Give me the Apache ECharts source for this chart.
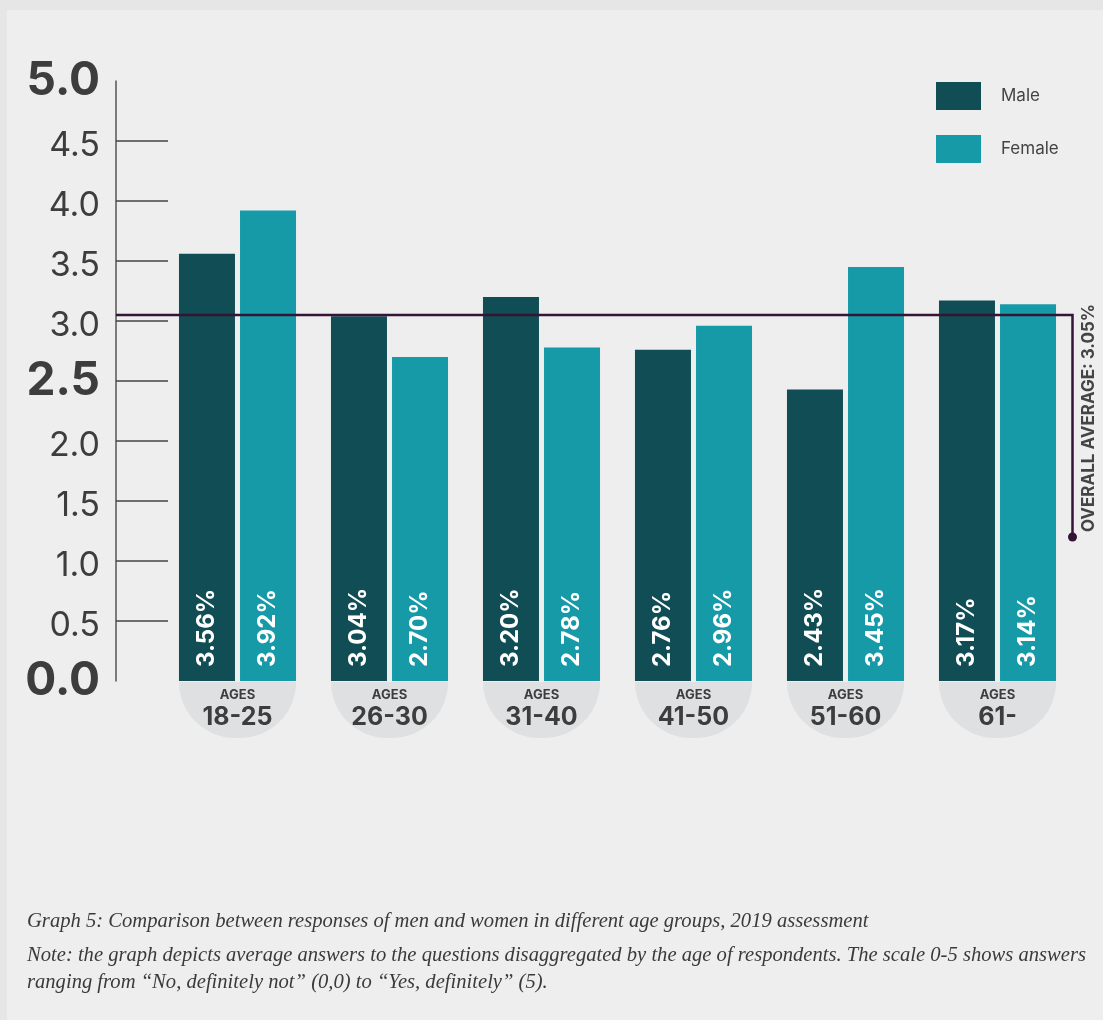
<!DOCTYPE html>
<html>
<head>
<meta charset="utf-8">
<script src="https://cdn.jsdelivr.net/npm/echarts@6/dist/echarts.min.js"></script>
<style>
html,body{margin:0;padding:0;background:#e6e6e6;}
#chart{width:1103px;height:1020px;}
</style>
</head>
<body>
<div id="chart"></div>
<script>
const categories = ['18-25', '26-30', '31-40', '41-50', '51-60', '61-'];
const maleValues = [3.56, 3.04, 3.20, 2.76, 2.43, 3.17];
const femaleValues = [3.92, 2.70, 2.78, 2.96, 3.45, 3.14];
const overallAverage = 3.05;
const yTicks = [0, 0.5, 1, 1.5, 2, 2.5, 3, 3.5, 4, 4.5, 5];
const tickMarks = [0.5, 1, 1.5, 2, 2.5, 3, 3.5, 4, 4.5];
const boldTicks = [0, 2.5, 5];
const captionLines = [
  'Graph 5: Comparison between responses of men and women in different age groups, 2019 assessment',
  'Note: the graph depicts average answers to the questions disaggregated by the age of respondents. The scale 0-5 shows answers',
  'ranging from \u201cNo, definitely not\u201d (0,0) to \u201cYes, definitely\u201d (5).'
];

const FONT = 'Inter, Roboto, sans-serif';
const chart = echarts.init(document.getElementById('chart'));

const GRID_LEFT = 161.5, GRID_RIGHT = 29.5, AXIS_OFFSET = 45.5;

const barLabel = {
  show: true,
  position: 'insideBottom',
  rotate: 90,
  align: 'left',
  verticalAlign: 'middle',
  distance: 14,
  offset: [0, 0],
  color: '#ffffff',
  fontFamily: FONT,
  fontWeight: 'bold',
  fontSize: 24,
  formatter: p => p.value.toFixed(2) + '%'
};

const option = {
  backgroundColor: '#e6e6e6',
  animation: false,
  grid: { left: GRID_LEFT, right: GRID_RIGHT, top: 81, bottom: 1020 - 681 },
  legend: {
    orient: 'vertical',
    left: 936,
    top: 82,
    padding: 0,
    icon: 'rect',
    itemWidth: 45,
    itemHeight: 28,
    itemGap: 25,
    textStyle: { color: '#444', fontFamily: FONT, fontSize: 17, padding: [0, 0, 0, 15] },
    data: ['Male', 'Female']
  },
  xAxis: {
    type: 'category',
    data: categories,
    axisLine: { show: false },
    axisTick: { show: false },
    axisLabel: {
      margin: 1,
      interval: 0,
      formatter: v => '{a|AGES}\n{b|' + v + '}',
      backgroundColor: '#dfe0e2',
      borderRadius: [0, 0, 58, 58],
      width: 117,
      height: 51,
      padding: [5, 0, 0, 0],
      align: 'center',
      rich: {
        a: { fontFamily: FONT, fontWeight: 'bold', fontSize: 13, color: '#3d3d3d', lineHeight: 16, align: 'center' },
        b: { fontFamily: FONT, fontWeight: 'bold', fontSize: 25, color: '#3d3d3d', lineHeight: 29, align: 'center' }
      }
    }
  },
  yAxis: {
    type: 'value',
    min: 0,
    max: 5,
    interval: 0.5,
    offset: AXIS_OFFSET,
    axisLine: { show: true, lineStyle: { color: '#555', width: 1.5 } },
    axisTick: { show: true, inside: true, length: 52, customValues: tickMarks, lineStyle: { color: '#444', width: 1.5 } },
    splitLine: { show: false },
    axisLabel: {
      margin: 16,
      customValues: yTicks,
      formatter: v => {
        const s = v.toFixed(1);
        return boldTicks.includes(v) ? '{b|' + s + '}' : '{r|' + s + '}';
      },
      rich: {
        b: { fontFamily: FONT, fontWeight: 'bold', fontSize: 46, color: '#3d3d3d' },
        r: { fontFamily: FONT, fontWeight: 'normal', fontSize: 34, color: '#3d3d3d', padding: [10, 0, 0, 0] }
      }
    }
  },
  series: [
    {
      name: 'Male', type: 'bar', data: maleValues, barWidth: 56, barGap: '9%',
      itemStyle: { color: '#114d55' }, label: barLabel
    },
    {
      name: 'Female', type: 'bar', data: femaleValues, barWidth: 56, barGap: '9%',
      itemStyle: { color: '#169aa8' }, label: barLabel
    }
  ]
};

chart.setOption(option);

// Decorations derived from the value scale
const yAvg = chart.convertToPixel({ yAxisIndex: 0 }, overallAverage);
const yEnd = chart.convertToPixel({ yAxisIndex: 0 }, 1.2);
const axisX = GRID_LEFT - AXIS_OFFSET;
const rightX = 1103 - GRID_RIGHT - 1;
const yMid = (yAvg + yEnd) / 2;

chart.setOption({
  graphic: [
    { type: 'rect', z: -10, silent: true, shape: { x: 7, y: 10, width: 1103, height: 1020 }, style: { fill: '#eeeeee' } },
    { type: 'polyline', z: 10, shape: { points: [[axisX, yAvg], [rightX, yAvg], [rightX, yEnd]] }, style: { stroke: '#351535', lineWidth: 2.5, fill: null } },
    { type: 'circle', z: 10, shape: { cx: rightX, cy: yEnd, r: 4.5 }, style: { fill: '#351535' } },
    {
      type: 'text', z: 10, x: rightX + 16, y: yMid - 8, rotation: Math.PI / 2,
      style: {
        text: 'OVERALL AVERAGE: ' + overallAverage.toFixed(2) + '%',
        fill: '#444', fontFamily: FONT, fontWeight: 'bold', fontSize: 17,
        align: 'center', verticalAlign: 'middle'
      }
    },
    ...captionLines.map((t, i) => ({
      type: 'text', left: 27, top: [911, 945, 972][i],
      style: { text: t, fill: '#3a3a3a', fontFamily: '"Liberation Serif", serif', fontStyle: 'italic', fontSize: 20.6 }
    }))
  ]
});
</script>
</body>
</html>
